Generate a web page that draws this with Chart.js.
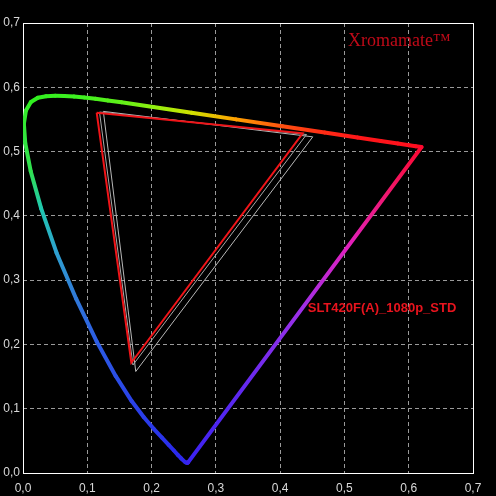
<!DOCTYPE html>
<html>
<head>
<meta charset="utf-8">
<script src="https://cdn.jsdelivr.net/npm/chart.js@4"></script>
<style>
  html, body { margin: 0; padding: 0; background: #000; }
  #wrap { width: 496px; height: 496px; }
</style>
</head>
<body>
<div id="wrap"><canvas id="c" width="496" height="496"></canvas></div>
<script>
// ---- data (CIE 1976 u'v') ----
const wavelengths = [380,390,400,410,420,430,435,440,445,450,455,460,465,470,475,480,485,490,495,500,505,510,515,520,525,530,535,540,545,550,555,560,570,580,590,600,610,620,630,640,650,660,680];
const locusU = [0.2568,0.2564,0.2557,0.2545,0.2522,0.2461,0.2411,0.2347,0.2266,0.2161,0.2033,0.1877,0.1690,0.1441,0.1147,0.0828,0.0521,0.0282,0.0119,0.0035,0.0014,0.0046,0.0123,0.0231,0.0360,0.0501,0.0643,0.0792,0.0953,0.1127,0.1319,0.1531,0.2026,0.2623,0.3315,0.4035,0.4692,0.5203,0.5565,0.5830,0.6005,0.6109,0.6199];
const locusV = [0.0166,0.0163,0.0159,0.0159,0.0169,0.0226,0.0279,0.0350,0.0437,0.0549,0.0688,0.0871,0.1119,0.1510,0.2044,0.2708,0.3427,0.4117,0.4698,0.5131,0.5432,0.5638,0.5770,0.5837,0.5861,0.5868,0.5865,0.5856,0.5841,0.5821,0.5796,0.5766,0.5694,0.5604,0.5501,0.5393,0.5296,0.5219,0.5165,0.5125,0.5099,0.5084,0.5070];

// measured gamut (G, R, B)
const measuredU = [0.1146, 0.4351, 0.1685];
const measuredV = [0.5605, 0.5284, 0.1715];
// second (grey) measured gamut
const grey2U = [0.1190, 0.4410, 0.1710];
const grey2V = [0.5615, 0.5265, 0.1680];
// reference gamut Rec.709 (G, R, B)
const refU = [0.1250, 0.4507, 0.1754];
const refV = [0.5625, 0.5229, 0.1579];

const tickValues = [0, 0.1, 0.2, 0.3, 0.4, 0.5, 0.6, 0.7];
const brandLabel = 'Xromamate\u2122';
const seriesLabel = 'SLT420F(A)_1080p_STD';

// ---- helpers ----
function closedPoints(us, vs) {
  const pts = us.map((u, i) => ({ x: u, y: vs[i] }));
  pts.push({ x: us[0], y: vs[0] });
  return pts;
}
const locusStops = [[380,'#3a22f0'],[440,'#2a2aec'],[465,'#2a42e8'],[475,'#2c5ce4'],[480,'#3078d8'],[485,'#2ea0d0'],[490,'#20c8b0'],[495,'#30e050'],[505,'#34ea34'],[515,'#30f020'],[545,'#40f020'],[560,'#60f018'],[570,'#90f010'],[580,'#d0e000'],[590,'#ffa000'],[600,'#ff5010'],[615,'#ff1818'],[680,'#ff0822']];
const purpleStops = [[0,'#ff0830'],[0.15,'#f01870'],[0.32,'#e020c0'],[0.52,'#9c30e8'],[0.79,'#5c28f0'],[1,'#3a22f0']];
function hex(c){ return [parseInt(c.substr(1,2),16),parseInt(c.substr(3,2),16),parseInt(c.substr(5,2),16)]; }
function colorFor(wl) {
  for (let i = 0; i < locusStops.length - 1; i++) {
    const [a, ca] = locusStops[i], [b, cb] = locusStops[i+1];
    if (wl >= a && wl <= b) {
      const t = (wl - a) / (b - a);
      const A = hex(ca), B = hex(cb);
      return 'rgb(' + A.map((v,k)=>Math.round(v + (B[k]-v)*t)).join(',') + ')';
    }
  }
  return locusStops[locusStops.length-1][1];
}

const locusData = closedPoints(locusU, locusV);

const deco = {
  id: 'deco',
  beforeDraw(chart) {
    const c = chart.ctx;
    c.save(); c.fillStyle = '#000'; c.fillRect(0, 0, chart.width, chart.height); c.restore();
  },
  beforeDatasetsDraw(chart) {
    const a = chart.chartArea, c = chart.ctx;
    c.save();
    c.strokeStyle = '#ffffff'; c.lineWidth = 1;
    c.strokeRect(a.left + 0.5, a.top + 0.5, a.right - a.left, a.bottom - a.top);
    c.restore();
  },
  afterDatasetsDraw(chart) {
    const c = chart.ctx, xs = chart.scales.x, ys = chart.scales.y;
    c.save();
    c.fillStyle = '#c00a18';
    c.font = '18px "Liberation Serif", "Times New Roman", serif';
    c.textBaseline = 'alphabetic'; c.textAlign = 'left';
    c.fillText(brandLabel, xs.getPixelForValue(0.5056), ys.getPixelForValue(0.664));
    c.fillStyle = '#e8141e';
    c.font = 'bold 13px "Liberation Sans", Arial, sans-serif';
    c.textBaseline = 'middle';
    c.fillText(seriesLabel, xs.getPixelForValue(0.4429), ys.getPixelForValue(0.2567));
    c.restore();
  }
};

const fmt = v => Number(v).toFixed(1).replace('.', ',');
const gridColor = ctx => {
  const v = ctx.tick ? ctx.tick.value : null;
  if (v === null) return 'rgba(0,0,0,0)';
  return (Math.abs(v) < 1e-9 || Math.abs(v - 0.7) < 1e-9) ? 'rgba(0,0,0,0)' : '#9a9a9a';
};

new Chart(document.getElementById('c'), {
  type: 'scatter',
  data: {
    datasets: [
      {
        label: 'locus',
        data: locusData,
        showLine: true,
        borderWidth: 4,
        borderCapStyle: 'round',
        borderJoinStyle: 'round',
        pointRadius: 0,
        tension: 0,
        order: 4,
        borderColor: '#ff0000',
        segment: {
          borderColor: ctx => {
            const g = ctx.chart.ctx.createLinearGradient(ctx.p0.x, ctx.p0.y, ctx.p1.x + 0.01, ctx.p1.y + 0.01);
            const i0 = ctx.p0DataIndex, i1 = ctx.p1DataIndex;
            if (i1 >= wavelengths.length) {
              purpleStops.forEach(s => g.addColorStop(s[0], s[1]));
            } else {
              g.addColorStop(0, colorFor(wavelengths[i0]));
              g.addColorStop(1, colorFor(wavelengths[i1]));
            }
            return g;
          }
        }
      },
      {
        label: 'Rec709',
        data: closedPoints(refU, refV),
        showLine: true, borderWidth: 1, borderColor: '#b8b8b8',
        pointRadius: 0, order: 3
      },
      {
        label: 'grey2',
        data: closedPoints(grey2U, grey2V),
        showLine: true, borderWidth: 1, borderColor: '#a8a8a8',
        pointRadius: 0, order: 2
      },
      {
        label: seriesLabel,
        data: closedPoints(measuredU, measuredV),
        showLine: true, borderWidth: 2, borderColor: '#f01418',
        borderJoinStyle: 'miter',
        pointRadius: 0, order: 1
      }
    ]
  },
  options: {
    responsive: false,
    animation: false,
    events: [],
    layout: { padding: { top: 23, right: 23, left: 0, bottom: 0 } },
    plugins: { legend: { display: false }, tooltip: { enabled: false } },
    scales: {
      x: {
        type: 'linear', min: 0, max: 0.7,
        afterBuildTicks: s => { s.ticks = tickValues.map(v => ({ value: v })); },
        afterFit: s => { s.height = 23; },
        ticks: { callback: fmt, color: '#d8d8d8', padding: 8, maxRotation: 0, autoSkip: false,
                 font: { family: '"Liberation Sans", Arial, sans-serif', size: 12 } },
        grid: { color: gridColor, lineWidth: 1, drawTicks: false },
        border: { display: false, dash: [4, 3] }
      },
      y: {
        type: 'linear', min: 0, max: 0.7,
        afterBuildTicks: s => { s.ticks = tickValues.map(v => ({ value: v })); },
        afterFit: s => { s.width = 23; },
        ticks: { callback: fmt, color: '#d8d8d8', padding: 3, autoSkip: false,
                 font: { family: '"Liberation Sans", Arial, sans-serif', size: 12 } },
        grid: { color: gridColor, lineWidth: 1, drawTicks: false },
        border: { display: false, dash: [4, 3] }
      }
    }
  },
  plugins: [deco]
});
</script>
</body>
</html>
